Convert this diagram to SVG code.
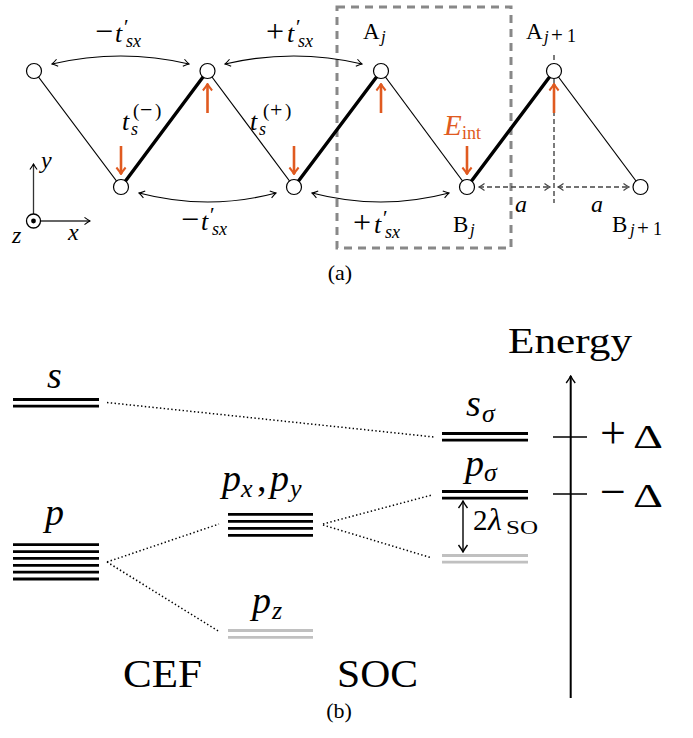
<svg xmlns="http://www.w3.org/2000/svg" width="693" height="738" viewBox="0 0 693 738">
<style>
text{font-family:"Liberation Serif","Times New Roman",serif;fill:#000}
.it{font-style:italic}
.or{fill:#e05a20}
.thin{stroke:#000;stroke-width:1.2;fill:none}
.thick{stroke:#000;stroke-width:3.4;fill:none;stroke-linecap:round}
.arc{stroke:#000;stroke-width:1.2;fill:none;marker-start:url(#ah);marker-end:url(#ah)}
.site{fill:#fff;stroke:#000;stroke-width:1.2}
.spin{stroke:#e05a20;stroke-width:2.6;fill:none;marker-end:url(#ao)}
.dim{stroke:#444;stroke-width:1.4;stroke-dasharray:5 3;fill:none}
.dima{stroke:#444;stroke-width:1.4;stroke-dasharray:5 3;fill:none;marker-start:url(#ad);marker-end:url(#ad)}
.lv{stroke:#000;stroke-width:2.8}
.lg{stroke:#c0c0c0;stroke-width:2.8}
.dot{stroke:#000;stroke-width:1.5;stroke-dasharray:1.4 2.4;fill:none}
</style>
<defs>
<marker id="ah" viewBox="-7 -5 8 10" refX="0" refY="0" markerWidth="8" markerHeight="10" markerUnits="userSpaceOnUse" orient="auto-start-reverse">
<path d="M-5.5,-3.6 Q-1.8,-0.9 0,0 Q-1.8,0.9 -5.5,3.6" fill="none" stroke="#000" stroke-width="1.1"/>
</marker>
<marker id="ao" viewBox="-8 -6 9 12" refX="0" refY="0" markerWidth="9" markerHeight="12" markerUnits="userSpaceOnUse" orient="auto">
<path d="M-6.5,-4.6 Q-2.4,-1.2 0,0 Q-2.4,1.2 -6.5,4.6" fill="none" stroke="#e05a20" stroke-width="2"/>
</marker>
<marker id="ad" viewBox="-7 -5 8 10" refX="0" refY="0" markerWidth="8" markerHeight="10" markerUnits="userSpaceOnUse" orient="auto-start-reverse">
<path d="M-5.5,-3.6 Q-1.8,-0.9 0,0 Q-1.8,0.9 -5.5,3.6" fill="none" stroke="#444" stroke-width="1.2"/>
</marker>
<marker id="ak" viewBox="-9 -6 10 12" refX="0" refY="0" markerWidth="10" markerHeight="12" markerUnits="userSpaceOnUse" orient="auto-start-reverse">
<path d="M-7,-4.5 Q-2.4,-1.1 0,0 Q-2.4,1.1 -7,4.5" fill="none" stroke="#000" stroke-width="1.4"/>
</marker>
</defs>
<rect width="693" height="738" fill="#fff"/>

<!-- (a) chain -->
<g id="unitcell">
<rect x="337" y="7" width="174" height="241" fill="none" stroke="#888" stroke-width="3" stroke-dasharray="8 6"/>
</g>

<g id="connectors">
<line class="dim" x1="554" y1="55" x2="554" y2="203"/>
<line class="dima" x1="479" y1="187" x2="550" y2="187"/>
<line class="dima" x1="558" y1="187" x2="629" y2="187"/>
<line class="thin" x1="34" y1="71" x2="121" y2="187"/>
<line class="thick" x1="121" y1="187" x2="207.5" y2="71"/>
<line class="thin" x1="207.5" y1="71" x2="294" y2="187"/>
<line class="thick" x1="294" y1="187" x2="381" y2="71"/>
<line class="thin" x1="381" y1="71" x2="467" y2="187"/>
<line class="thick" x1="467" y1="187" x2="554" y2="71"/>
<line class="thin" x1="554" y1="71" x2="640.5" y2="187"/>
<path class="arc" d="M52,64 Q121,48 189,64"/>
<path class="arc" d="M225,64 Q294,48 362,64"/>
<path class="arc" d="M139,193 Q208,211 276,193"/>
<path class="arc" d="M312,193 Q381,211 449,193"/>
</g>

<g id="A0"><circle class="site" cx="34" cy="71" r="7.5"/></g>
<g id="B0"><circle class="site" cx="121" cy="187" r="7.5"/></g>
<g id="A1"><circle class="site" cx="207.5" cy="71" r="7.5"/></g>
<g id="B1"><circle class="site" cx="294" cy="187" r="7.5"/></g>
<g id="Aj"><circle class="site" cx="381" cy="71" r="7.5"/>
<text x="363" y="39" font-size="23">A<tspan class="it" x="381" y="42" font-size="17">j</tspan></text></g>
<g id="Bj"><circle class="site" cx="467" cy="187" r="7.5"/>
<text x="453" y="232" font-size="23">B<tspan class="it" x="470" y="235" font-size="17">j</tspan></text></g>
<g id="Aj1"><circle class="site" cx="554" cy="71" r="7.5"/>
<text x="526" y="39" font-size="23">A<tspan class="it" x="544" y="42" font-size="17">j</tspan><tspan x="551" y="42" font-size="21">+</tspan><tspan x="567" y="42" font-size="18">1</tspan></text></g>
<g id="Bj1"><circle class="site" cx="640.5" cy="187" r="7.5"/>
<text x="612" y="232" font-size="23">B<tspan class="it" x="630" y="235" font-size="17">j</tspan><tspan x="637" y="235" font-size="21">+</tspan><tspan x="653" y="235" font-size="18">1</tspan></text></g>

<g id="spins">
<line class="spin" x1="121" y1="146" x2="121" y2="174"/>
<line class="spin" x1="207.5" y1="113" x2="207.5" y2="84"/>
<line class="spin" x1="294" y1="146" x2="294" y2="174"/>
<line class="spin" x1="381" y1="113" x2="381" y2="84"/>
<line class="spin" x1="467" y1="146" x2="467" y2="174"/>
<line class="spin" x1="554" y1="113" x2="554" y2="84"/>
</g>

<g id="labels-a">
<text x="95" y="42" font-size="32">−<tspan class="it" x="115" font-size="26">t</tspan><tspan x="124" y="34" font-size="21">′</tspan><tspan class="it" x="126" y="47" font-size="18">sx</tspan></text>
<text x="266" y="42" font-size="32">+<tspan class="it" x="287" font-size="26">t</tspan><tspan x="296" y="34" font-size="21">′</tspan><tspan class="it" x="298" y="47" font-size="18">sx</tspan></text>
<text x="181" y="230" font-size="32">−<tspan class="it" x="201" font-size="26">t</tspan><tspan x="210" y="222" font-size="21">′</tspan><tspan class="it" x="212" y="235" font-size="18">sx</tspan></text>
<text x="353" y="233" font-size="32">+<tspan class="it" x="374" font-size="26">t</tspan><tspan x="383" y="225" font-size="21">′</tspan><tspan class="it" x="385" y="238" font-size="18">sx</tspan></text>
<text class="it" x="122" y="130" font-size="26">t<tspan x="131" y="135" font-size="18">s</tspan><tspan font-style="normal" x="133" y="117" font-size="19">(</tspan><tspan font-style="normal" x="140" y="117" font-size="22">−</tspan><tspan font-style="normal" x="155" y="117" font-size="19">)</tspan></text>
<text class="it" x="250" y="130" font-size="26">t<tspan x="259" y="135" font-size="18">s</tspan><tspan font-style="normal" x="263" y="117" font-size="19">(</tspan><tspan font-style="normal" x="270" y="117" font-size="22">+</tspan><tspan font-style="normal" x="285" y="117" font-size="19">)</tspan></text>
<text class="it or" x="444" y="135" font-size="29">E<tspan font-style="normal" x="462" y="139" font-size="18">int</tspan></text>
<text class="it" x="515" y="212" font-size="24">a</text>
<text class="it" x="591" y="212" font-size="24">a</text>
</g>

<g id="axes">
<line x1="33.5" y1="214" x2="33.5" y2="164" stroke="#333" stroke-width="1.3" marker-end="url(#ah)"/>
<line x1="41" y1="221" x2="90" y2="221" stroke="#333" stroke-width="1.3" marker-end="url(#ah)"/>
<circle cx="33.5" cy="221" r="7" fill="#fff" stroke="#000" stroke-width="1.3"/>
<circle cx="33.5" cy="221" r="2.4" fill="#000"/>
<text class="it" x="41" y="168" font-size="24">y</text>
<text class="it" x="68" y="240" font-size="24">x</text>
<text class="it" x="12" y="243" font-size="24">z</text>
</g>
<text x="340" y="280" font-size="22" text-anchor="middle">(a)</text>

<!-- (b) levels -->
<g id="level-s">
<text class="it" x="47" y="388" font-size="38">s</text>
<line class="lv" x1="13" y1="399.5" x2="99" y2="399.5"/>
<line class="lv" x1="13" y1="406.2" x2="99" y2="406.2"/>
</g>
<g id="level-p">
<text class="it" x="45" y="525" font-size="38">p</text>
<line class="lv" x1="13" y1="544.7" x2="99" y2="544.7"/>
<line class="lv" x1="13" y1="551.6" x2="99" y2="551.6"/>
<line class="lv" x1="13" y1="558.4" x2="99" y2="558.4"/>
<line class="lv" x1="13" y1="565.3" x2="99" y2="565.3"/>
<line class="lv" x1="13" y1="572.2" x2="99" y2="572.2"/>
<line class="lv" x1="13" y1="579" x2="99" y2="579"/>
</g>
<g id="level-pxpy">
<text class="it" x="222" y="491" font-size="38">p<tspan x="241" y="497" font-size="26">x</tspan><tspan font-style="normal" x="257" y="491" font-size="38">,</tspan><tspan x="270" y="491" font-size="38">p</tspan><tspan x="290" y="497" font-size="26">y</tspan></text>
<line class="lv" x1="228" y1="514.3" x2="313" y2="514.3"/>
<line class="lv" x1="228" y1="521.3" x2="313" y2="521.3"/>
<line class="lv" x1="228" y1="528.3" x2="313" y2="528.3"/>
<line class="lv" x1="228" y1="535.3" x2="313" y2="535.3"/>
</g>
<g id="level-pz">
<text class="it" x="252" y="613" font-size="38">p<tspan x="272" y="619" font-size="26">z</tspan></text>
<line class="lg" x1="228" y1="630.5" x2="313" y2="630.5"/>
<line class="lg" x1="228" y1="637.3" x2="313" y2="637.3"/>
</g>
<g id="level-ssigma">
<text class="it" x="466" y="416" font-size="38">s<tspan x="482" y="422" font-size="26">σ</tspan></text>
<line class="lv" x1="442" y1="433.5" x2="528" y2="433.5"/>
<line class="lv" x1="442" y1="440.2" x2="528" y2="440.2"/>
</g>
<g id="level-psigma">
<text class="it" x="465" y="476" font-size="38">p<tspan x="484" y="481" font-size="26">σ</tspan></text>
<line class="lv" x1="442" y1="491.5" x2="528" y2="491.5"/>
<line class="lv" x1="442" y1="498.2" x2="528" y2="498.2"/>
</g>
<g id="level-soc">
<line class="lg" x1="442" y1="555.5" x2="528" y2="555.5"/>
<line class="lg" x1="442" y1="562.2" x2="528" y2="562.2"/>
</g>

<g id="connectors-b">
<line class="dot" x1="107" y1="402.5" x2="434" y2="437"/>
<line class="dot" x1="107" y1="562" x2="219" y2="524"/>
<line class="dot" x1="107" y1="562" x2="220" y2="632"/>
<line class="dot" x1="323" y1="524" x2="432" y2="495"/>
<line class="dot" x1="323" y1="525" x2="432" y2="558"/>
<line x1="463" y1="501" x2="463" y2="552" stroke="#000" stroke-width="1.4" marker-start="url(#ak)" marker-end="url(#ak)"/>
</g>
<text x="473" y="530" font-size="29">2<tspan class="it" x="488" font-size="32">λ</tspan></text>
<text x="506" y="534" font-size="18" textLength="32" lengthAdjust="spacingAndGlyphs">SO</text>

<g id="energy-axis">
<line x1="570.7" y1="698" x2="570.7" y2="376" stroke="#000" stroke-width="2" marker-end="url(#ak)"/>
<line x1="553" y1="437" x2="587" y2="437" stroke="#000" stroke-width="1.5"/>
<line x1="553" y1="494" x2="587" y2="494" stroke="#000" stroke-width="1.5"/>
<text x="508" y="353" font-size="36" textLength="124" lengthAdjust="spacingAndGlyphs">Energy</text>
<text x="600" y="448" font-size="46">+</text>
<text x="633" y="448" font-size="34" textLength="30" lengthAdjust="spacingAndGlyphs">Δ</text>
<text x="600" y="507" font-size="46">−</text>
<text x="633" y="507" font-size="34" textLength="30" lengthAdjust="spacingAndGlyphs">Δ</text>
</g>

<text x="123" y="687" font-size="40" textLength="79" lengthAdjust="spacingAndGlyphs">CEF</text>
<text x="337" y="687" font-size="40" textLength="81" lengthAdjust="spacingAndGlyphs">SOC</text>
<text x="339" y="718" font-size="22" text-anchor="middle">(b)</text>
</svg>
